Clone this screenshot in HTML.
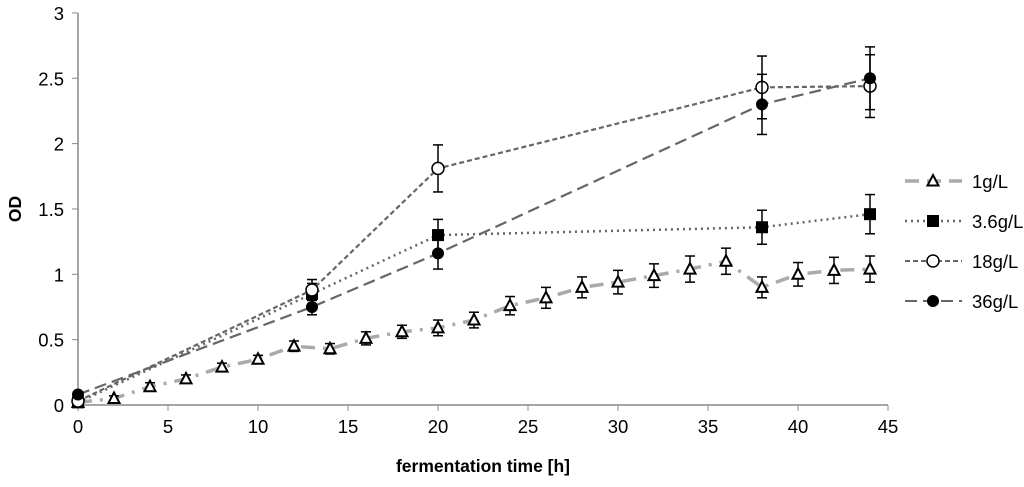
<!DOCTYPE html>
<html><head><meta charset="utf-8"><style>
body{margin:0;background:#fff;}
svg{font-family:"Liberation Sans",sans-serif;}
</style></head><body>
<svg id="chart" width="1024" height="482"></svg>
<script>
const xTicks=[0,5,10,15,20,25,30,35,40,45];
const yTicks=[0,0.5,1,1.5,2,2.5,3];
const yTickLabels=["0","0.5","1","1.5","2","2.5","3"];
const x1=[0,2,4,6,8,10,12,14,16,18,20,22,24,26,28,30,32,34,36,38,40,42,44];
const y1=[0.02,0.05,0.14,0.2,0.29,0.35,0.45,0.43,0.51,0.56,0.59,0.65,0.76,0.82,0.9,0.94,0.99,1.04,1.1,0.9,1.0,1.03,1.04];
const e1=[0.02,0.02,0.03,0.03,0.03,0.03,0.04,0.04,0.05,0.05,0.06,0.06,0.07,0.08,0.08,0.09,0.09,0.1,0.1,0.08,0.09,0.1,0.1];
const xB=[0,13,20,38,44];
const y36=[0.02,0.85,1.3,1.36,1.46];
const e36=[0.02,0.08,0.12,0.13,0.15];
const y18=[0.03,0.88,1.81,2.43,2.44];
const e18=[0.02,0.08,0.18,0.24,0.24];
const y360=[0.08,0.75,1.16,2.3,2.5];
const e360=[0.02,0.06,0.12,0.23,0.24];
const NS="http://www.w3.org/2000/svg";
const svg=document.getElementById('chart');
const X=v=>78+v*18, Y=v=>405-v*130.7;
function mk(t,a,p){const e=document.createElementNS(NS,t);for(const k in a)e.setAttribute(k,a[k]);(p||svg).appendChild(e);return e;}
let ax=mk('g',{});


mk('line',{x1:78,y1:13,x2:78,y2:405,stroke:'#888','stroke-width':1.5},ax);
mk('line',{x1:78,y1:405,x2:888,y2:405,stroke:'#888','stroke-width':1.5},ax);
xTicks.forEach(t=>{mk('line',{x1:X(t),y1:405,x2:X(t),y2:411,stroke:'#888'},ax);
 const tx=mk('text',{x:X(t),y:433,'text-anchor':'middle','font-size':18.5},ax);tx.textContent=t;
 });
yTicks.forEach((t,i)=>{mk('line',{x1:72,y1:Y(t),x2:78,y2:Y(t),stroke:'#888'},ax);
 const tx=mk('text',{x:64,y:Y(t)+7,'text-anchor':'end','font-size':18.5},ax);tx.textContent=yTickLabels[i];
 });
let xt=mk('text',{x:483,y:472,'text-anchor':'middle','font-size':17.5,'font-weight':'bold'});xt.textContent='fermentation time [h]';

let yt=mk('text',{x:0,y:0,transform:'translate(21,209) rotate(-90)','text-anchor':'middle','font-size':17.5,'font-weight':'bold'});yt.textContent='OD';

function marker(type,x,y,g){
 if(type==='tri')mk('path',{d:`M${x},${y-6}L${x+5.5},${y+4.5}L${x-5.5},${y+4.5}Z`,fill:'#fff',stroke:'#000','stroke-width':2},g);
 else if(type==='sq')mk('rect',{x:x-6,y:y-6,width:12,height:12,fill:'#000'},g);
 else if(type==='oc')mk('circle',{cx:x,cy:y,r:6,fill:'#fff',stroke:'#000','stroke-width':1.5},g);
 else mk('circle',{cx:x,cy:y,r:6,fill:'#000'},g);
}
function series(name,xs,ys,es,type,stroke,sw,dash){
 const g=mk('g',{});
 
 
 mk('polyline',{points:xs.map((x,i)=>X(x)+','+Y(ys[i])).join(' '),fill:'none',stroke:stroke,'stroke-width':sw,'stroke-dasharray':dash},g);
 xs.forEach((x,i)=>{const px=X(x);
  mk('line',{x1:px,y1:Y(ys[i]+es[i]),x2:px,y2:Y(ys[i]-es[i]),stroke:'#000','stroke-width':1.5},g);
  mk('line',{x1:px-5,y1:Y(ys[i]+es[i]),x2:px+5,y2:Y(ys[i]+es[i]),stroke:'#000','stroke-width':1.5},g);
  mk('line',{x1:px-5,y1:Y(ys[i]-es[i]),x2:px+5,y2:Y(ys[i]-es[i]),stroke:'#000','stroke-width':1.5},g);
  marker(type,px,Y(ys[i]),g);});
}
series('series-1g-l',x1,y1,e1,'tri','#aaa',3.5,'14 8 3 8');
series('series-3-6g-l',xB,y36,e36,'sq','#666',2.5,'2 4');
series('series-18g-l',xB,y18,e18,'oc','#666',2.2,'5 3');
series('series-36g-l',xB,y360,e360,'fc','#666',2.2,'12 6');
const leg=[['1g/L','tri','#aaa',3.5,'14 8'],['3.6g/L','sq','#666',2.5,'2 4'],['18g/L','oc','#666',2,'5 3'],['36g/L','fc','#666',2,'12 6']];
leg.forEach((l,i)=>{const y=181+i*40;const g=mk('g',{});
 
 
 mk('line',{x1:905,y1:y,x2:962,y2:y,stroke:l[2],'stroke-width':l[3],'stroke-dasharray':l[4]},g);
 marker(l[1],933,y,g);
 const t=mk('text',{x:972,y:y+7,'font-size':18.5},g);t.textContent=l[0];});
</script>
</body></html>
